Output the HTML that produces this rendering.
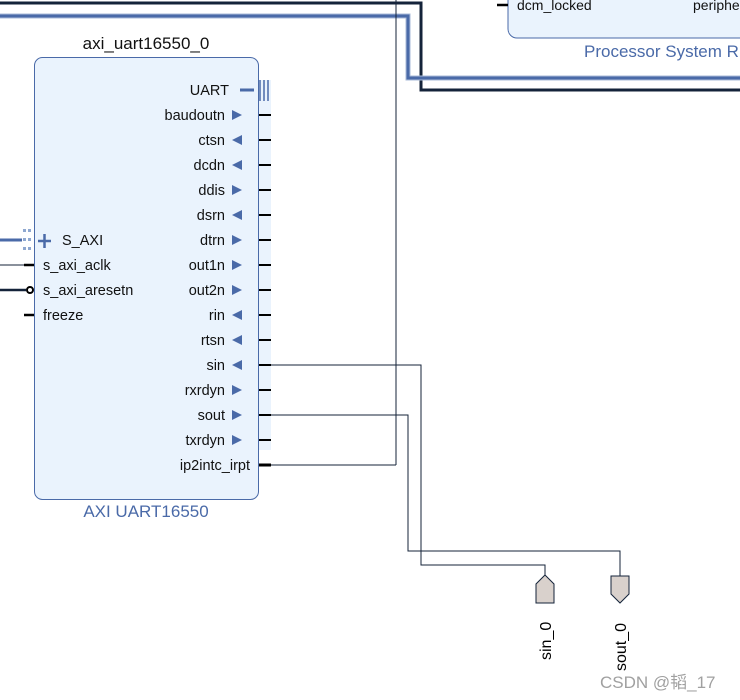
<!DOCTYPE html>
<html><head><style>body{margin:0;background:#fff}svg{display:block}text{font-family:"Liberation Sans","Noto Sans CJK SC",sans-serif}</style></head><body>
<svg width="740" height="700" viewBox="0 0 740 700" xmlns="http://www.w3.org/2000/svg">
<rect x="508" y="-20" width="260" height="58" rx="9" fill="#eaf3fd" stroke="#4a6aa8" stroke-width="1"/>
<line x1="497" y1="5" x2="508" y2="5" stroke="#000" stroke-width="2.5"/>
<text x="517" y="10" font-size="14" fill="#111">dcm_locked</text>
<text x="693" y="10" font-size="14" fill="#111">periphe</text>
<text x="584" y="57" font-size="17" fill="#4a6aa8">Processor System R</text>
<polyline points="0,3 421,3 421,90 740,90" fill="none" stroke="#14233a" stroke-width="3"/>
<polyline points="0,16 408,16 408,78 740,78" fill="none" stroke="#a9bbd8" stroke-width="5"/>
<polyline points="0,16 408,16 408,78 740,78" fill="none" stroke="#4a6aa8" stroke-width="3"/>
<line x1="396" y1="0" x2="396" y2="465" stroke="#14233a" stroke-width="1"/>
<text x="146" y="49" font-size="17" fill="#111" text-anchor="middle">axi_uart16550_0</text>
<rect x="34.5" y="57.5" width="224" height="442" rx="8" fill="#eaf3fd" stroke="#4a6aa8" stroke-width="1"/>
<rect x="259" y="80" width="12" height="370" fill="#eaf3fd"/>
<text x="146" y="517" font-size="17" fill="#4a6aa8" text-anchor="middle">AXI UART16550</text>
<text x="229" y="95" font-size="14.5" fill="#111" text-anchor="end">UART</text>
<line x1="240" y1="90" x2="254" y2="90" stroke="#4a6aa8" stroke-width="3"/>
<g stroke="#4a6aa8" stroke-width="1.5"><line x1="260" y1="80" x2="260" y2="101"/><line x1="264" y1="80" x2="264" y2="101"/><line x1="268" y1="80" x2="268" y2="101"/></g>
<g font-size="14.5" fill="#111" text-anchor="end">
<text x="225" y="120">baudoutn</text><text x="225" y="145">ctsn</text><text x="225" y="170">dcdn</text><text x="225" y="195">ddis</text><text x="225" y="220">dsrn</text><text x="225" y="245">dtrn</text><text x="225" y="270">out1n</text><text x="225" y="295">out2n</text><text x="225" y="320">rin</text><text x="225" y="345">rtsn</text><text x="225" y="370">sin</text><text x="225" y="395">rxrdyn</text><text x="225" y="420">sout</text><text x="225" y="445">txrdyn</text><text x="250" y="470">ip2intc_irpt</text>
</g>
<g fill="#4a6aa8">
<polygon points="232,110 242,115 232,120"/>
<polygon points="242,135 232,140 242,145"/>
<polygon points="242,160 232,165 242,170"/>
<polygon points="232,185 242,190 232,195"/>
<polygon points="242,210 232,215 242,220"/>
<polygon points="232,235 242,240 232,245"/>
<polygon points="232,260 242,265 232,270"/>
<polygon points="232,285 242,290 232,295"/>
<polygon points="242,310 232,315 242,320"/>
<polygon points="242,335 232,340 242,345"/>
<polygon points="242,360 232,365 242,370"/>
<polygon points="232,385 242,390 232,395"/>
<polygon points="232,410 242,415 232,420"/>
<polygon points="232,435 242,440 232,445"/>
</g>
<g stroke="#000" stroke-width="2">
<line x1="259" y1="115" x2="271" y2="115"/><line x1="259" y1="140" x2="271" y2="140"/><line x1="259" y1="165" x2="271" y2="165"/><line x1="259" y1="190" x2="271" y2="190"/><line x1="259" y1="215" x2="271" y2="215"/><line x1="259" y1="240" x2="271" y2="240"/><line x1="259" y1="265" x2="271" y2="265"/><line x1="259" y1="290" x2="271" y2="290"/><line x1="259" y1="315" x2="271" y2="315"/><line x1="259" y1="340" x2="271" y2="340"/><line x1="259" y1="365" x2="271" y2="365"/><line x1="259" y1="390" x2="271" y2="390"/><line x1="259" y1="415" x2="271" y2="415"/><line x1="259" y1="440" x2="271" y2="440"/><line x1="259" y1="465" x2="271" y2="465" stroke-width="3"/>
</g>
<line x1="0" y1="240" x2="22" y2="240" stroke="#4a6aa8" stroke-width="3"/>
<g fill="#8fa8d0"><rect x="23" y="229" width="3" height="3"/><rect x="28" y="229" width="3" height="3"/><rect x="23" y="238" width="3" height="3"/><rect x="28" y="238" width="3" height="3"/><rect x="23" y="247" width="3" height="3"/><rect x="28" y="247" width="3" height="3"/></g>
<g stroke="#4a6aa8" stroke-width="2.5"><line x1="38" y1="241" x2="51" y2="241"/><line x1="44.5" y1="234" x2="44.5" y2="248"/></g>
<line x1="0" y1="265" x2="24" y2="265" stroke="#14233a" stroke-width="1"/>
<line x1="24" y1="265" x2="34" y2="265" stroke="#000" stroke-width="2.5"/>
<line x1="0" y1="290" x2="26" y2="290" stroke="#14233a" stroke-width="2.5"/>
<circle cx="30" cy="290" r="3" fill="#fff" stroke="#000" stroke-width="2"/>
<line x1="24" y1="315" x2="34" y2="315" stroke="#000" stroke-width="2.5"/>
<g font-size="14.5" fill="#111"><text x="62" y="245">S_AXI</text><text x="43" y="270">s_axi_aclk</text><text x="43" y="295">s_axi_aresetn</text><text x="43" y="320">freeze</text></g>
<polyline points="396,465 271,465" fill="none" stroke="#14233a" stroke-width="1"/>
<polyline points="271,365 421,365 421,565 545,565 545,577" fill="none" stroke="#14233a" stroke-width="1"/>
<polyline points="271,415 408,415 408,551 620,551 620,576" fill="none" stroke="#14233a" stroke-width="1"/>
<polygon points="545,575 554,584 554,603 536,603 536,584" fill="#d9d1cc" stroke="#14233a" stroke-width="1"/>
<polygon points="611,576 629,576 629,594 620,603 611,594" fill="#d9d1cc" stroke="#14233a" stroke-width="1"/>
<text transform="translate(551,660) rotate(-90)" font-size="16" fill="#000">sin_0</text>
<text transform="translate(626,671) rotate(-90)" font-size="16" fill="#000">sout_0</text>
<text x="600" y="688" font-size="17" fill="#a0a0a0">CSDN @韬_17</text>
</svg>
</body></html>
